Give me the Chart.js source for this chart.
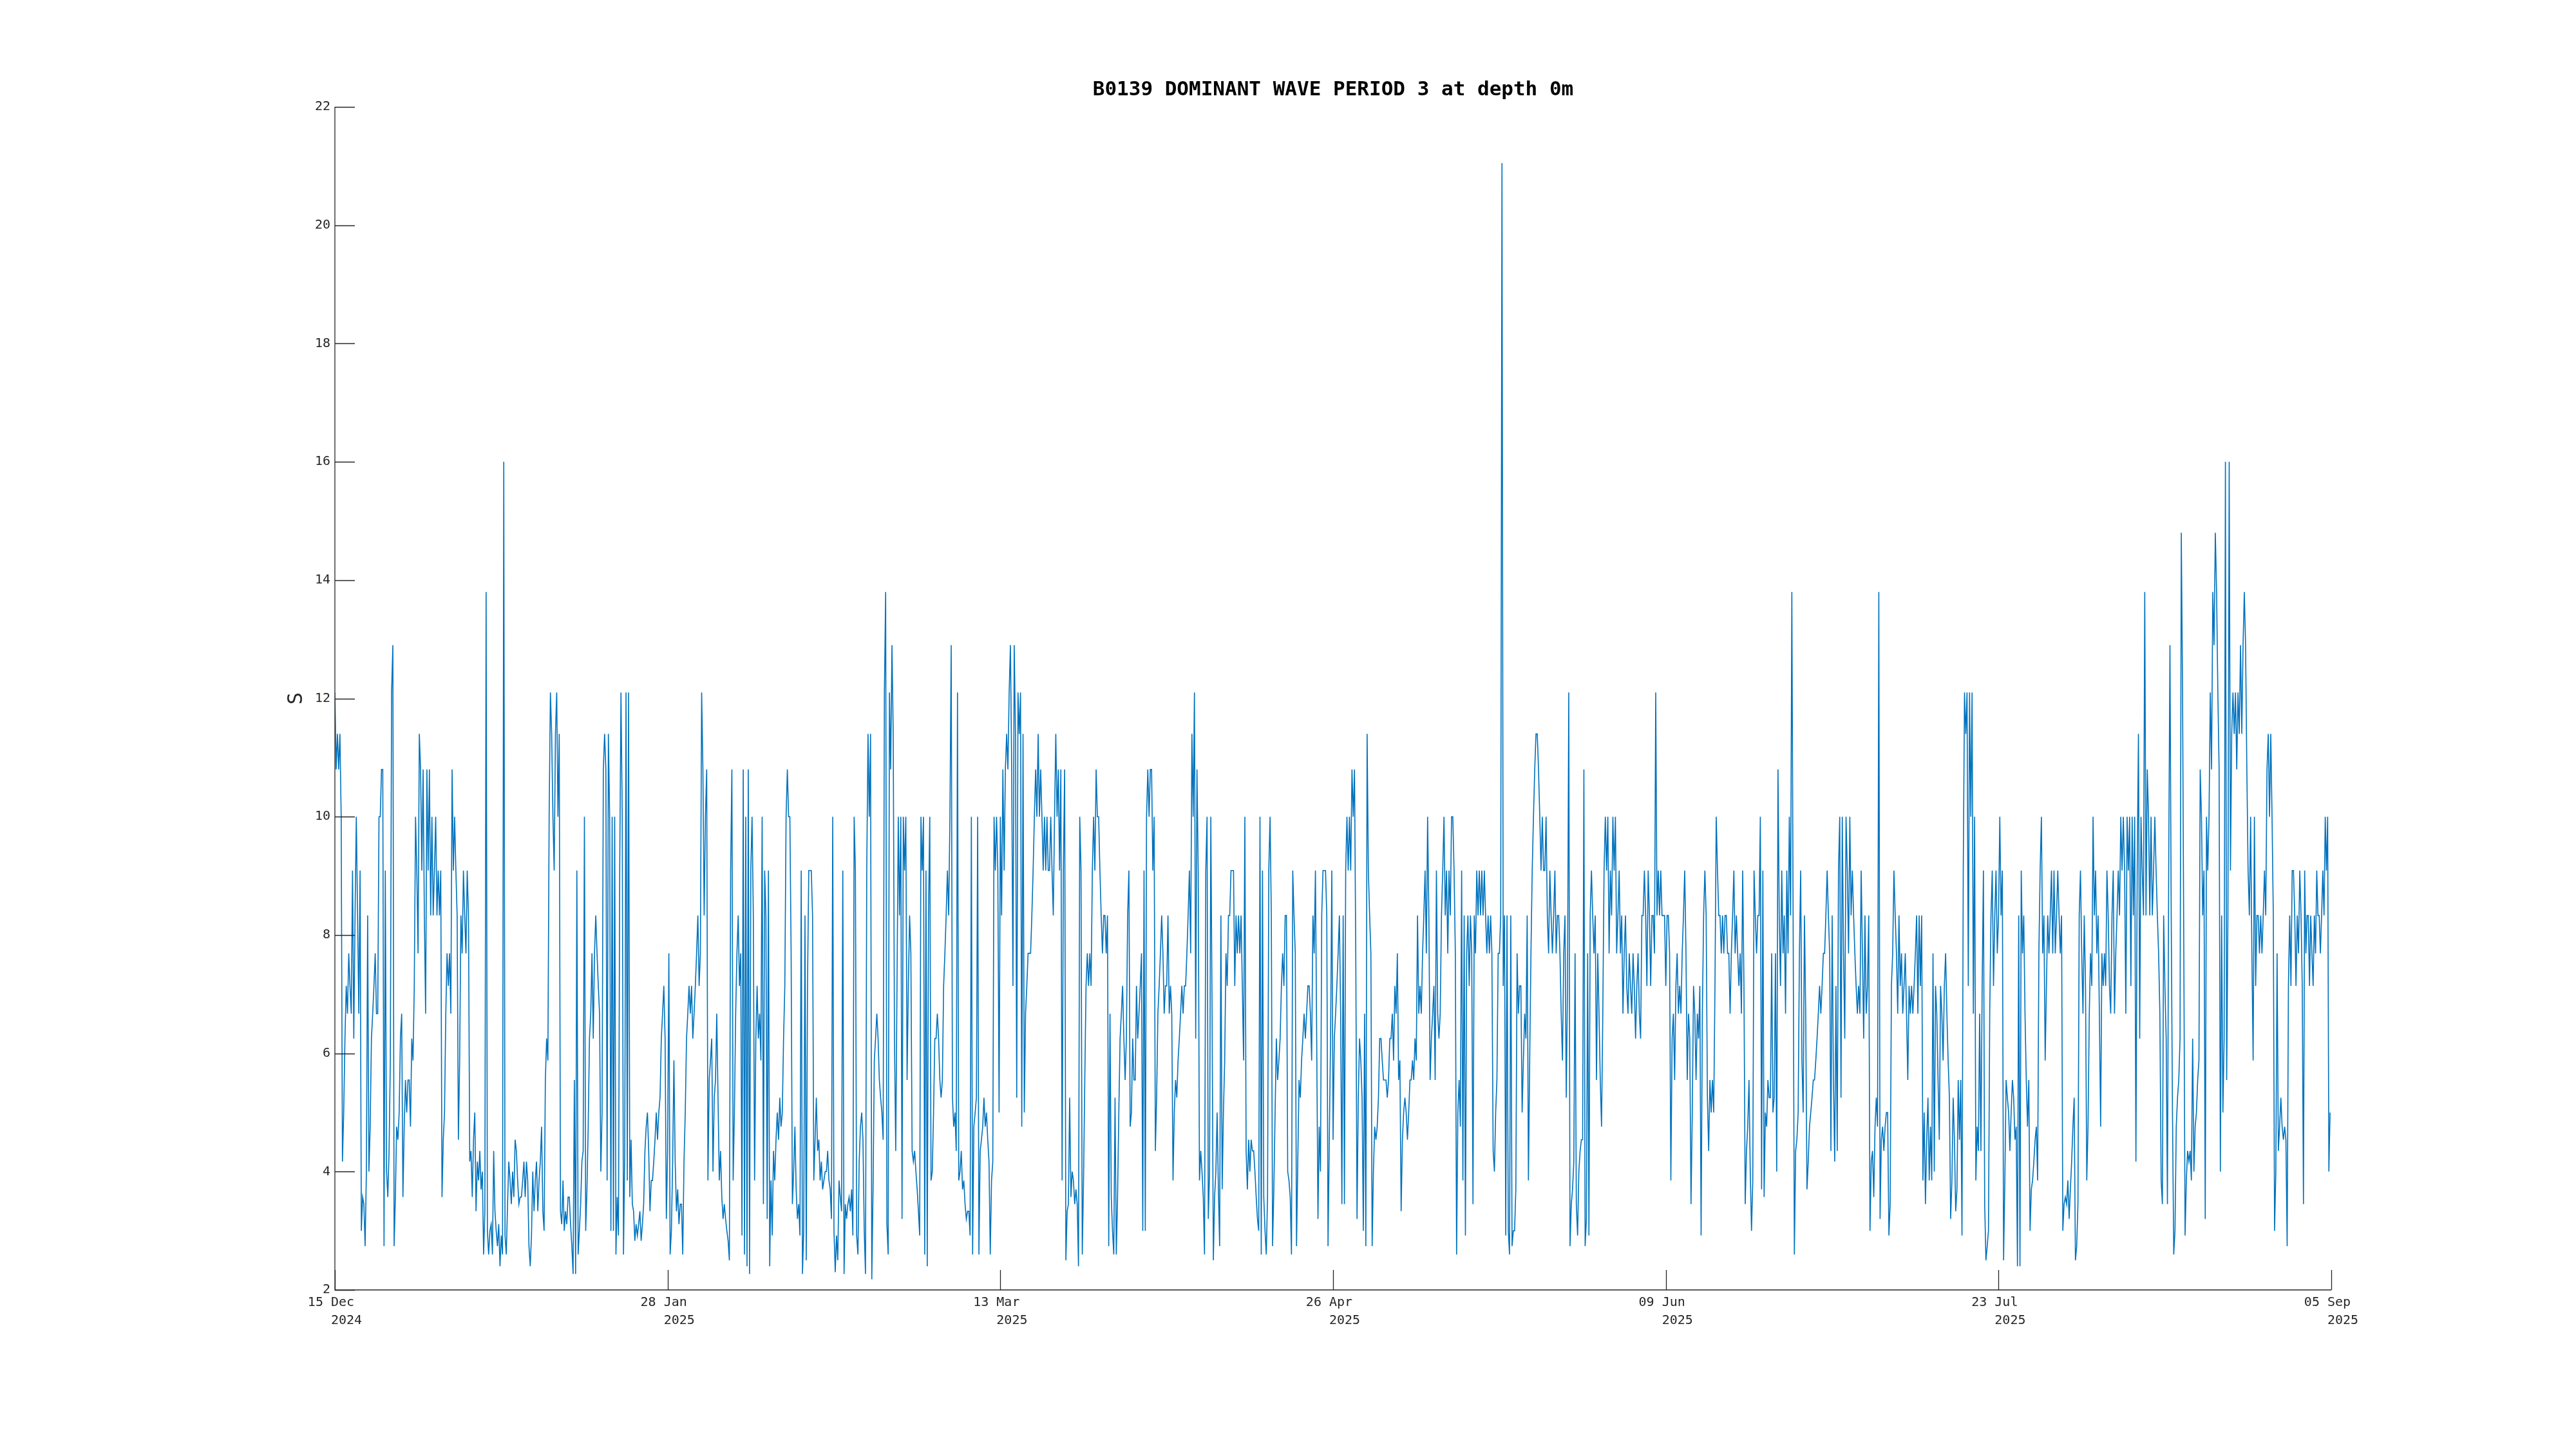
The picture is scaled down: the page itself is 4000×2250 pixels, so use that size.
<!DOCTYPE html>
<html>
<head>
<meta charset="utf-8">
<script src="https://cdn.jsdelivr.net/npm/chart.js@4.4.1/dist/chart.umd.min.js"></script>
<style>
  html, body { margin: 0; padding: 0; background: #ffffff; }
  #wrap { width: 4000px; height: 2250px; }
</style>
</head>
<body>
<div id="wrap"><canvas id="waveChart" width="4000" height="2250"></canvas></div>
<script>
// days are counted from 15 Dec 2024 00:00
var tickDays = [0, 44, 88, 132, 176, 220, 264];
var tickDates = ['15 Dec', '28 Jan', '13 Mar', '26 Apr', '09 Jun', '23 Jul', '05 Sep'];
var tickYears = ['2024', '2025', '2025', '2025', '2025', '2025', '2025'];
var yTicks = [2, 4, 6, 8, 10, 12, 14, 16, 18, 20, 22];

// month start / end (days from 15 Dec), values spread evenly inside each month
var monthStart = [0, 17, 48, 76, 107, 137, 168, 198, 229, 260];
var monthEnd   = [17, 48, 76, 107, 137, 168, 198, 229, 260, 264];

var dec = [
  12.1, 10.8, 11.4, 10.8, 11.4, 10.0,  4.17, 5.0, 6.25, 7.14, 6.67, 7.69,
  7.14, 6.67, 9.09, 6.25, 8.33, 10.0,  8.33, 6.67, 9.09, 3.0, 3.57, 3.45,
  2.74, 4.0, 8.33, 4.0, 4.76, 6.25,  6.67, 7.14, 7.69, 6.67, 6.67, 10.0,
  10.0, 10.8, 10.8, 2.74, 9.09, 4.0,  3.57, 4.35, 5.88, 12.1, 12.9, 2.74,
  3.57, 4.76, 4.54, 5.0, 6.25, 6.67,  3.57, 4.76, 5.55, 5.0, 5.55, 5.55,
  4.76, 6.25, 5.88, 7.14, 10.0, 9.09,  7.69, 11.4, 10.8, 9.09, 10.8, 8.33,
  6.67, 10.8, 9.09, 10.8, 8.33, 10.0,  8.33, 9.09, 10.0, 8.33, 9.09, 8.33,
  9.09, 3.57, 4.54, 5.0, 6.67, 7.69,  7.14, 7.69, 6.67, 10.8, 9.09, 10.0,
  9.09, 8.33, 4.54, 5.88, 8.33, 7.69
];
var jan = [
  9.09, 8.33, 7.69, 9.09, 8.33, 4.17,  4.35, 3.57, 4.54, 5.0, 3.33, 4.17,
  3.85, 4.35, 3.7, 4.0, 2.6, 3.33,  13.8, 3.0, 2.6, 3.0, 3.11, 2.6,
  4.35, 3.33, 3.0, 2.74, 3.11, 2.4,  2.92, 2.6, 16.0, 2.92, 2.6, 3.45,
  4.17, 3.85, 3.45, 4.0, 3.57, 4.54,  4.35, 3.85, 3.45, 3.57, 3.57, 3.85,
  4.17, 3.57, 4.17, 3.85, 2.74, 2.4,  2.92, 4.0, 3.33, 3.85, 4.17, 3.33,
  3.85, 4.17, 4.76, 3.33, 3.0, 5.55,  6.25, 5.88, 10.0, 12.1, 11.4, 10.0,
  9.09, 11.4, 12.1, 10.0, 11.4, 3.33,  3.11, 3.85, 3.0, 3.33, 3.11, 3.57,
  3.57, 3.11, 2.74, 2.27, 5.55, 2.27,  9.09, 2.6, 3.0, 3.45, 4.17, 4.35,
  10.0, 3.0, 3.7, 4.76, 6.25, 6.67,  7.69, 6.25, 7.69, 8.33, 7.69, 7.14,
  6.67, 4.0, 5.0, 10.8, 11.4, 10.8,  3.85, 11.4, 10.0, 3.0, 10.0, 3.0,
  10.0, 2.6, 3.57, 2.92, 9.09, 12.1,  10.0, 2.6, 4.35, 12.1, 3.85, 12.1,
  3.57, 4.54, 3.45, 3.33, 2.83, 3.11,  2.92, 3.11, 3.33, 2.83, 3.11, 3.45,
  4.35, 4.76, 5.0, 4.35, 3.33, 3.85,  3.85, 4.17, 4.54, 5.0, 4.54, 5.0,
  5.25, 6.25, 6.67, 7.14, 6.25, 3.2,  4.35, 7.69, 2.6, 3.0, 4.17, 5.88,
  4.17, 3.33, 3.7, 3.11, 3.45, 3.45,  2.6, 4.17, 5.0, 6.25, 6.67, 7.14,
  6.67, 7.14, 6.25, 6.67, 7.14, 7.69
];
var feb = [
  8.33, 7.14, 7.69, 12.1, 10.8, 8.33,  10.0, 10.8, 3.85, 5.55, 5.88, 6.25,
  4.0, 5.25, 5.55, 6.67, 5.25, 3.85,  4.35, 3.57, 3.2, 3.45, 3.2, 3.0,
  2.83, 2.5, 9.09, 10.8, 3.85, 5.0,  6.67, 7.69, 8.33, 7.14, 7.69, 2.92,
  10.8, 2.6, 10.0, 2.4, 10.8, 2.27,  9.09, 10.0, 8.33, 3.85, 6.25, 7.14,
  6.25, 6.67, 5.88, 10.0, 3.45, 9.09,  8.33, 3.2, 9.09, 2.4, 3.85, 2.92,
  4.35, 3.85, 4.54, 5.0, 4.54, 5.25,  4.76, 5.0, 6.25, 7.14, 10.0, 10.8,
  10.0, 10.0, 7.69, 3.45, 4.0, 4.76,  3.7, 3.2, 3.45, 2.92, 9.09, 2.27,
  3.0, 8.33, 2.5, 7.14, 9.09, 9.09,  9.09, 8.33, 3.85, 4.54, 5.25, 4.35,
  4.54, 3.85, 4.17, 3.7, 3.85, 4.0,  4.0, 4.35, 3.85, 3.7, 3.2, 10.0,
  3.0, 2.3, 2.92, 2.5, 3.85, 3.57,  3.33, 9.09, 2.27, 3.45, 3.2, 3.45,
  3.57, 3.33, 3.7, 2.92, 10.0, 9.09,  2.92, 2.6, 4.17, 4.76, 5.0, 4.54,
  3.0, 2.27, 9.09, 11.4, 10.0, 11.4,  2.18, 3.7, 5.88, 6.25, 6.67, 6.25,
  5.55, 5.25, 5.0, 4.54, 12.1, 13.8,  3.11, 2.6, 12.1, 10.8, 12.9, 11.4,
  6.25, 4.35, 7.14, 10.0, 8.33, 10.0,  3.2, 10.0, 9.09, 10.0, 5.55, 7.14
];
var mar = [
  8.33, 7.69, 4.35, 4.17, 4.35, 4.0,  3.7, 3.33, 2.92, 10.0, 9.09, 10.0,
  2.6, 9.09, 2.4, 8.33, 10.0, 3.85,  4.0, 5.0, 6.25, 6.25, 6.67, 6.25,
  5.55, 5.25, 5.55, 7.14, 7.69, 8.33,  9.09, 8.33, 10.0, 12.9, 5.25, 4.76,
  5.0, 4.35, 12.1, 3.85, 4.0, 4.35,  3.7, 3.85, 3.45, 3.2, 3.33, 3.33,
  2.92, 10.0, 2.6, 4.76, 5.0, 5.25,  10.0, 2.6, 4.35, 4.54, 4.76, 5.25,
  4.76, 5.0, 4.54, 4.17, 2.6, 3.85,  4.17, 10.0, 9.09, 10.0, 9.09, 5.0,
  10.0, 8.33, 10.8, 9.09, 10.8, 11.4,  10.8, 12.1, 12.9, 10.8, 7.14, 12.9,
  11.4, 5.25, 12.1, 11.4, 12.1, 4.76,  11.4, 5.0, 6.67, 7.14, 7.69, 7.69,
  7.69, 8.33, 9.09, 10.0, 10.8, 10.0,  11.4, 10.0, 10.8, 10.0, 9.09, 10.0,
  9.09, 10.0, 9.09, 9.09, 10.0, 9.09,  8.33, 10.0, 11.4, 10.0, 10.8, 9.09,
  10.8, 3.85, 9.09, 10.8, 2.5, 3.33,  3.45, 5.25, 3.57, 4.0, 3.85, 3.45,
  3.7, 3.45, 2.4, 10.0, 9.09, 2.6,  3.85, 5.55, 7.14, 7.69, 7.14, 7.69,
  7.14, 9.09, 10.0, 9.09, 10.8, 10.0,  10.0, 9.09, 8.33, 7.69, 8.33, 8.33,
  7.69, 8.33, 2.74, 6.67, 3.57, 3.0,  2.6, 5.25, 2.6, 3.57, 5.0, 6.25,
  6.67, 7.14, 6.25, 5.55, 6.25, 8.33,  9.09, 4.76, 5.0, 6.25, 5.55, 5.55,
  7.14, 6.25, 6.67, 7.14, 7.69, 3.0
];
var apr = [
  9.09, 3.0, 10.0, 10.8, 10.0, 10.8,  10.8, 9.09, 10.0, 4.35, 5.25, 6.67,
  7.14, 7.69, 8.33, 7.69, 6.67, 7.14,  7.14, 8.33, 6.67, 7.14, 6.67, 3.85,
  5.0, 5.55, 5.25, 5.88, 6.25, 6.67,  7.14, 6.67, 7.14, 7.14, 7.69, 8.33,
  9.09, 7.69, 11.4, 10.0, 12.1, 6.25,  10.8, 9.09, 3.85, 4.35, 4.0, 3.57,
  2.6, 9.09, 10.0, 3.2, 4.0, 10.0,  6.67, 2.5, 3.57, 4.0, 5.0, 3.7,
  2.74, 8.33, 3.7, 5.0, 5.88, 7.69,  7.14, 8.33, 8.33, 9.09, 9.09, 9.09,
  7.14, 8.33, 7.69, 8.33, 7.69, 8.33,  7.14, 5.88, 10.0, 4.35, 3.7, 4.54,
  4.0, 4.54, 4.35, 4.35, 4.0, 3.57,  3.2, 3.0, 10.0, 2.6, 9.09, 3.57,
  3.0, 2.6, 3.57, 9.09, 10.0, 8.33,  2.74, 3.7, 5.0, 6.25, 5.55, 5.88,
  6.25, 7.14, 7.69, 7.14, 8.33, 8.33,  4.0, 3.85, 3.57, 2.6, 9.09, 8.33,
  7.69, 2.74, 4.17, 5.55, 5.25, 5.88,  6.25, 6.67, 6.25, 6.67, 7.14, 7.14,
  6.67, 5.88, 8.33, 7.69, 9.09, 6.25,  3.2, 4.76, 4.0, 8.33, 9.09, 9.09,
  9.09, 8.33, 2.74, 4.54, 6.25, 9.09,  4.54, 6.25, 6.67, 7.14, 7.69, 8.33,
  6.67, 3.45, 8.33, 3.45, 9.09, 10.0,  9.09, 10.0, 9.09, 10.8, 10.0, 10.8,
  7.69, 3.2, 5.25, 6.25, 5.88, 5.25,  3.0, 6.67, 2.74, 11.4, 9.09, 8.33
];
var may = [
  7.69, 2.74, 4.0, 4.76, 4.54, 4.76,  5.25, 6.25, 6.25, 5.88, 5.55, 5.55,
  5.55, 5.25, 5.55, 6.25, 6.25, 6.67,  5.88, 7.14, 6.67, 7.69, 5.55, 5.88,
  3.33, 4.54, 5.0, 5.25, 5.0, 4.54,  5.0, 5.55, 5.55, 5.88, 5.55, 6.25,
  5.88, 8.33, 6.67, 7.14, 6.67, 7.69,  8.33, 9.09, 7.69, 10.0, 8.33, 5.55,
  6.25, 6.67, 7.14, 5.55, 9.09, 6.67,  6.25, 6.67, 8.33, 9.09, 10.0, 8.33,
  9.09, 7.69, 9.09, 8.33, 10.0, 10.0,  9.09, 7.69, 2.6, 5.0, 5.55, 4.76,
  9.09, 3.85, 8.33, 2.92, 7.69, 8.33,  7.14, 8.33, 7.69, 3.45, 8.33, 7.69,
  9.09, 8.33, 9.09, 8.33, 9.09, 8.33,  9.09, 8.33, 7.69, 8.33, 7.69, 8.33,
  7.69, 4.35, 4.0, 5.0, 5.55, 7.69,  7.69, 8.33, 21.05, 7.14, 8.33, 2.92,
  8.33, 3.0, 2.6, 8.33, 2.74, 3.0,  3.0, 3.7, 7.69, 6.67, 7.14, 7.14,
  5.0, 5.88, 6.67, 6.25, 8.33, 3.85,  5.88, 7.69, 9.09, 10.0, 10.8, 11.4,
  11.4, 10.8, 10.0, 9.09, 10.0, 9.09,  9.09, 10.0, 8.33, 7.69, 9.09, 8.33,
  7.69, 8.33, 9.09, 7.69, 8.33, 8.33,  7.69, 6.67, 5.88, 7.69, 8.33, 5.25,
  7.14, 12.1, 2.74, 3.45, 3.7, 4.17,  7.69, 3.45, 2.92, 4.0, 4.35, 4.54,
  4.54, 10.8, 2.74, 3.2, 7.69, 2.92,  8.33, 9.09, 8.33, 7.69, 8.33, 5.55,
  7.69, 6.67, 5.55, 4.76, 6.67, 9.09
];
var jun = [
  10.0, 9.09, 10.0, 7.69, 9.09, 8.33,  10.0, 9.09, 10.0, 7.69, 8.33, 9.09,
  7.69, 8.33, 6.67, 7.69, 8.33, 7.14,  6.67, 7.69, 7.14, 6.67, 7.69, 7.14,
  6.25, 7.14, 7.69, 6.67, 6.25, 8.33,  8.33, 9.09, 8.33, 7.14, 9.09, 8.33,
  7.14, 8.33, 8.33, 7.69, 12.1, 8.33,  9.09, 8.33, 9.09, 8.33, 8.33, 8.33,
  7.14, 8.33, 8.33, 7.69, 3.85, 6.25,  6.67, 5.55, 7.14, 7.69, 6.67, 7.14,
  6.67, 7.69, 8.33, 9.09, 7.69, 5.55,  6.67, 6.25, 3.45, 5.0, 7.14, 6.67,
  5.55, 6.67, 6.25, 7.14, 2.92, 6.67,  8.33, 9.09, 8.33, 5.25, 4.35, 5.55,
  5.0, 5.55, 5.0, 7.14, 10.0, 9.09,  8.33, 8.33, 7.69, 8.33, 7.69, 8.33,
  8.33, 7.69, 7.69, 6.67, 7.69, 8.33,  9.09, 7.69, 8.33, 7.69, 7.14, 7.69,
  6.67, 9.09, 7.14, 3.45, 4.35, 4.76,  5.55, 4.0, 3.0, 3.85, 9.09, 8.33,
  7.69, 8.33, 8.33, 10.0, 3.7, 9.09,  3.57, 5.0, 4.76, 5.55, 5.25, 5.25,
  7.69, 5.0, 5.25, 7.69, 4.0, 10.8,  8.33, 7.14, 9.09, 7.69, 8.33, 6.67,
  9.09, 7.69, 10.0, 8.33, 13.8, 8.33,  2.6, 4.35, 4.54, 5.0, 7.69, 9.09,
  5.88, 5.0, 8.33, 6.67, 3.7, 4.17,  4.76, 5.0, 5.25, 5.55, 5.55, 5.88,
  6.25, 6.67, 7.14, 6.67, 7.14, 7.69,  7.69, 8.33, 9.09, 8.33, 7.69, 4.35
];
var jul = [
  8.33, 5.55, 4.17, 7.14, 4.35, 9.09,  10.0, 5.25, 10.0, 7.69, 6.25, 10.0,
  9.09, 7.69, 10.0, 8.33, 9.09, 8.33,  7.69, 7.14, 6.67, 7.14, 6.67, 9.09,
  7.69, 6.25, 8.33, 6.67, 7.14, 8.33,  3.0, 4.17, 4.35, 3.57, 4.76, 5.25,
  4.76, 13.8, 3.2, 4.54, 4.76, 4.35,  4.76, 5.0, 5.0, 2.92, 3.45, 7.14,
  7.69, 9.09, 8.33, 7.69, 6.67, 8.33,  7.14, 7.69, 6.67, 7.14, 7.69, 6.67,
  5.55, 7.14, 6.67, 7.14, 6.67, 7.14,  7.69, 8.33, 6.67, 8.33, 7.14, 8.33,
  3.85, 5.0, 3.45, 4.54, 5.25, 3.85,  4.76, 3.85, 7.69, 4.0, 7.14, 6.67,
  5.55, 4.54, 7.14, 6.67, 5.88, 7.14,  7.69, 6.67, 5.88, 5.25, 3.2, 3.85,
  5.25, 4.54, 3.33, 3.7, 5.55, 4.54,  5.55, 2.92, 9.09, 12.1, 11.4, 12.1,
  7.14, 12.1, 10.0, 12.1, 6.67, 10.0,  3.85, 4.76, 4.35, 6.67, 4.35, 7.14,
  9.09, 3.45, 2.5, 2.74, 3.0, 6.67,  8.33, 9.09, 7.14, 8.33, 9.09, 7.69,
  8.33, 10.0, 8.33, 9.09, 2.5, 3.85,  5.55, 5.25, 5.0, 4.35, 5.0, 5.55,
  5.25, 4.54, 4.76, 2.4, 8.33, 2.4,  9.09, 7.69, 8.33, 6.67, 5.55, 4.76,
  5.55, 3.0, 3.7, 3.85, 4.17, 4.54,  4.76, 3.85, 7.69, 9.09, 10.0, 7.69,
  8.33, 5.88, 7.14, 8.33, 7.69, 8.33,  9.09, 7.69, 9.09, 7.69, 8.33, 9.09,
  8.33, 7.69, 8.33, 3.0, 3.45, 3.57
];
var aug = [
  3.45, 3.85, 3.2, 3.7, 4.17, 4.76,  5.25, 2.5, 2.74, 3.45, 8.33, 9.09,
  7.69, 6.67, 8.33, 7.14, 3.85, 4.76,  6.67, 7.69, 7.14, 10.0, 8.33, 9.09,
  7.69, 8.33, 6.67, 4.76, 7.69, 7.14,  7.69, 7.14, 9.09, 8.33, 7.14, 6.67,
  8.33, 9.09, 6.67, 7.69, 8.33, 9.09,  8.33, 10.0, 9.09, 10.0, 9.09, 6.67,
  10.0, 9.09, 10.0, 7.14, 10.0, 8.33,  10.0, 4.17, 9.09, 11.4, 6.25, 10.0,
  9.09, 8.33, 13.8, 8.33, 10.8, 10.0,  8.33, 10.0, 8.33, 9.09, 10.0, 9.09,
  8.33, 7.69, 6.67, 3.85, 3.45, 8.33,  7.14, 6.25, 3.45, 9.09, 12.9, 8.33,
  5.0, 2.6, 3.0, 4.76, 5.25, 5.55,  6.25, 14.8, 12.1, 7.69, 2.92, 3.85,
  4.35, 4.17, 4.35, 3.85, 6.25, 4.0,  4.76, 5.0, 5.55, 5.88, 10.8, 10.0,
  8.33, 9.09, 3.2, 10.0, 9.09, 10.0,  12.1, 10.8, 13.8, 12.9, 14.8, 13.8,
  12.1, 10.8, 4.0, 8.33, 5.0, 6.25,  16.0, 5.55, 8.33, 16.0, 9.09, 11.4,
  12.1, 11.4, 12.1, 10.8, 12.1, 11.4,  12.9, 11.4, 12.9, 13.8, 12.9, 10.8,
  9.09, 8.33, 10.0, 7.69, 5.88, 10.0,  7.14, 8.33, 8.33, 7.69, 8.33, 7.69,
  8.33, 9.09, 8.33, 10.8, 11.4, 10.0,  11.4, 10.0, 8.33, 3.0, 4.0, 7.69,
  4.35, 4.76, 5.25, 4.76, 4.54, 4.76,  4.54, 2.74, 7.14, 8.33, 7.14, 9.09,
  9.09, 8.33, 7.14, 8.33, 7.69, 9.09
];
var sep = [
  8.33, 7.14, 3.45, 9.09, 7.69, 8.33,  8.33, 7.14, 8.33, 7.69, 7.14, 8.33,
  7.69, 9.09, 8.33, 8.33, 7.69, 8.33,  9.09, 8.33, 10.0, 9.09, 10.0, 4.0,
  5.0
];

var months = [dec, jan, feb, mar, apr, may, jun, jul, aug, sep];
var points = [];
months.forEach(function (vals, m) {
    var step = (monthEnd[m] - monthStart[m]) / vals.length;
    vals.forEach(function (v, i) {
        points.push({ x: monthStart[m] + i * step, y: v });
    });
});

var monoFont = "'DejaVu Sans Mono', 'Liberation Mono', monospace";
var inkColor = '#262626';

// MATLAB-like axes: left + bottom lines, inward ticks, title and y label
const matlabAxes = {
    id: 'matlabAxes',
    afterDraw: function (chart) {
        const ctx = chart.ctx;
        const a = chart.chartArea;
        const xs = chart.scales.x;
        const ys = chart.scales.y;
        ctx.save();
        ctx.strokeStyle = inkColor;
        ctx.lineWidth = 1.3;
        ctx.beginPath();
        ctx.moveTo(a.left, a.top);
        ctx.lineTo(a.left, a.bottom);
        ctx.lineTo(a.right, a.bottom);
        ys.ticks.forEach(function (t) {
            const py = Math.round(ys.getPixelForValue(t.value)) + 0.5;
            ctx.moveTo(a.left, py);
            ctx.lineTo(a.left + 31, py);
        });
        xs.ticks.forEach(function (t) {
            const px = Math.round(xs.getPixelForValue(t.value)) + 0.5;
            ctx.moveTo(px, a.bottom);
            ctx.lineTo(px, a.bottom - 31);
        });
        ctx.stroke();

        ctx.fillStyle = '#000000';
        ctx.font = 'bold 31px ' + monoFont;
        ctx.textAlign = 'center';
        ctx.textBaseline = 'middle';
        ctx.fillText('B0139 DOMINANT WAVE PERIOD 3 at depth 0m', (a.left + a.right) / 2, 140);

        ctx.fillStyle = inkColor;
        ctx.font = '32px ' + monoFont;
        ctx.translate(461, (a.top + a.bottom) / 2);
        ctx.rotate(-Math.PI / 2);
        ctx.fillText('S', 0, 0);
        ctx.restore();
    }
};

const config = {
    type: 'line',
    data: {
        datasets: [{
            label: 'Dominant wave period',
            data: points,
            borderColor: '#0072BD',
            borderWidth: 1.6,
            pointRadius: 0,
            tension: 0,
            fill: false
        }]
    },
    options: {
        responsive: false,
        animation: false,
        devicePixelRatio: 1,
        layout: { padding: { left: 0, top: 166, right: 380, bottom: 0 } },
        plugins: {
            legend: { display: false },
            title: { display: false },
            tooltip: { enabled: false }
        },
        scales: {
            x: {
                type: 'linear',
                min: 0,
                max: 264,
                grid: { display: false, drawTicks: false },
                border: { display: false },
                afterBuildTicks: function (scale) {
                    scale.ticks = tickDays.map(function (d) { return { value: d }; });
                },
                afterFit: function (scale) { scale.height = 247; },
                ticks: {
                    autoSkip: false,
                    maxRotation: 0,
                    padding: 6,
                    color: inkColor,
                    font: { family: monoFont, size: 20, lineHeight: 1.4 },
                    callback: function (value) {
                        const k = tickDays.indexOf(value);
                        if (k < 0) return '';
                        return [tickDates[k] + ' ', '   ' + tickYears[k]];
                    }
                }
            },
            y: {
                min: 2,
                max: 22,
                grid: { display: false, drawTicks: false },
                border: { display: false },
                afterBuildTicks: function (scale) {
                    scale.ticks = yTicks.map(function (v) { return { value: v }; });
                },
                afterFit: function (scale) { scale.width = 520; },
                ticks: {
                    padding: 7,
                    color: inkColor,
                    font: { family: monoFont, size: 20 }
                }
            }
        }
    },
    plugins: [matlabAxes]
};

window.waveChart = new Chart(document.getElementById('waveChart'), config);
</script>
</body>
</html>
